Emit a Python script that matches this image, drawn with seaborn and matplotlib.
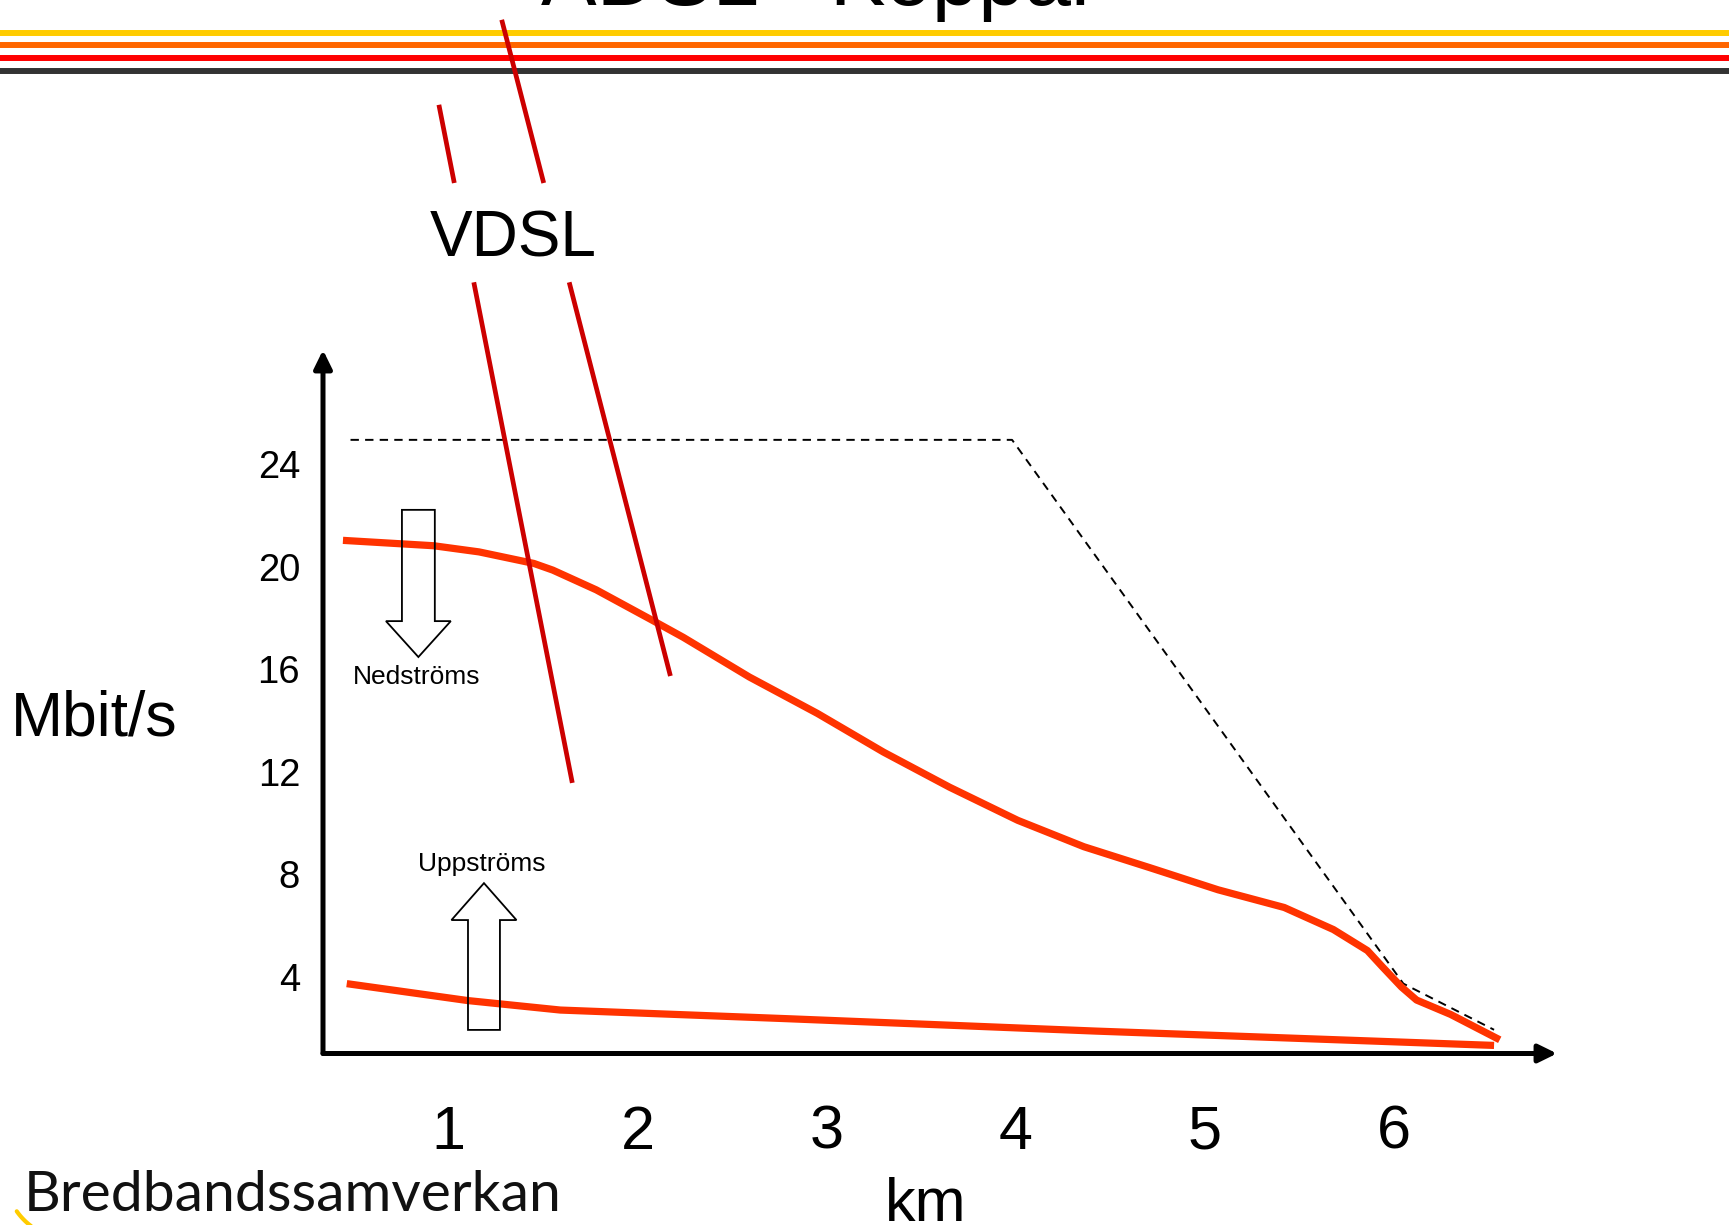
import numpy as np
import pandas as pd
import matplotlib
matplotlib.use("Agg")
import matplotlib.pyplot as plt
import seaborn as sns
from matplotlib.lines import Line2D
from matplotlib.patches import FancyArrow

# ---------------- data ----------------
km_ticks = [1, 2, 3, 4, 5, 6]
mbit_ticks = [4, 8, 12, 16, 20, 24]

down_km = [0.44, 0.92, 1.16, 1.45, 1.55, 1.78, 2.07, 2.24, 2.59, 2.95, 3.30,
           3.65, 4.01, 4.36, 4.71, 5.07, 5.42, 5.68, 5.86, 5.94, 6.04, 6.12,
           6.30, 6.56]
down_mbit = [21.03, 20.82, 20.58, 20.13, 19.87, 19.10, 17.94, 17.25, 15.70,
             14.28, 12.77, 11.40, 10.11, 9.08, 8.26, 7.40, 6.71, 5.85, 5.03,
             4.39, 3.61, 3.10, 2.54, 1.55]

up_km = [0.46, 1.10, 1.59, 2.80, 4.42, 6.53]
up_mbit = [3.74, 3.08, 2.71, 2.37, 1.89, 1.33]

max_km = [0.48, 3.98, 6.05, 6.53]
max_mbit = [24.95, 24.95, 3.74, 1.94]

# ---------------- figure ----------------
W, H = 1729, 1225
sns.set_theme(style="white")
plt.rcParams["font.family"] = ["Liberation Sans", "DejaVu Sans"]

fig = plt.figure(figsize=(W / 100, H / 100), dpi=100)
fig.patch.set_facecolor("white")


def fx(px):
    return px / W


def fy(py):
    return 1 - py / H


# header stripes
for ypx, col in [(32.8, "#FFCC00"), (45.3, "#FF6600"), (58.2, "#FF0000"), (71.0, "#333333")]:
    fig.add_artist(Line2D([0, 1], [fy(ypx), fy(ypx)], transform=fig.transFigure,
                          lw=4.3, color=col, solid_capstyle="butt", zorder=1))

# title (cut off at top like the reference)
fig.text(fx(820), fy(5), "ADSL - Koppar", fontsize=60, ha="center", va="baseline",
         color="black", zorder=2)

# main axes
ax = fig.add_axes([fx(323), fy(1053.5), fx(1557) - fx(323), fy(350) - fy(1053.5)])
ax.set_xlim(0.3344, 6.863)
ax.set_ylim(1.015, 28.455)
ax.patch.set_alpha(0)
for s in ax.spines.values():
    s.set_visible(False)

df_down = pd.DataFrame({"km": down_km, "mbit": down_mbit})
df_up = pd.DataFrame({"km": up_km, "mbit": up_mbit})
df_max = pd.DataFrame({"km": max_km, "mbit": max_mbit})

sns.lineplot(data=df_max, x="km", y="mbit", ax=ax, sort=False, estimator=None,
             color="black", lw=1.4, zorder=2)
ax.lines[-1].set_dashes((4.3, 3.2))
sns.lineplot(data=df_down, x="km", y="mbit", ax=ax, sort=False, estimator=None,
             color="#FF3300", lw=5.2, zorder=3)
sns.lineplot(data=df_up, x="km", y="mbit", ax=ax, sort=False, estimator=None,
             color="#FF3300", lw=5.2, zorder=3)
for ln in ax.lines:
    ln.set_solid_capstyle("butt")
    ln.set_solid_joinstyle("round")

ax.set_xlabel("")
ax.set_ylabel("")
ax.set_xticks(km_ticks)
ax.set_xticklabels([str(v) for v in km_ticks])
ax.set_yticks(mbit_ticks)
ax.set_yticklabels([str(v) for v in mbit_ticks])
ax.tick_params(axis="x", length=0, pad=37, labelsize=44, colors="black")
ax.tick_params(axis="y", length=0, pad=16.5, labelsize=27.5, colors="black")
ax.grid(False)

# axis arrows
arrow_kw = dict(arrowstyle="-|>,head_length=0.55,head_width=0.27", lw=3.6,
                color="black", shrinkA=0, shrinkB=0, mutation_scale=20)
ax.annotate("", xy=(1, 0), xytext=(0, 0), xycoords="axes fraction",
            arrowprops=arrow_kw, annotation_clip=False, zorder=5)
ax.annotate("", xy=(0, 1), xytext=(0, 0), xycoords="axes fraction",
            arrowprops=arrow_kw, annotation_clip=False, zorder=5)

# hollow block arrows
ax.add_patch(FancyArrow(0.839, 22.22, 0, 16.48 - 22.22, width=0.174, head_width=0.343,
                        head_length=1.40, length_includes_head=True, fc="none",
                        ec="black", lw=1.3, zorder=4))
ax.add_patch(FancyArrow(1.186, 1.935, 0, 7.66 - 1.935, width=0.169, head_width=0.344,
                        head_length=1.44, length_includes_head=True, fc="none",
                        ec="black", lw=1.3, zorder=4))
ax.text(0.832, 15.70, "Nedströms", fontsize=19, ha="center", va="center", color="black")
ax.text(1.175, 8.39, "Uppströms", fontsize=19, ha="center", va="center", color="black")

# VDSL marker lines (figure pixel space)
vdsl_segments = [
    [(438.9, 104.8), (454.3, 183.0)],
    [(473.8, 282.3), (572.3, 782.9)],
    [(501.7, 19.8), (543.7, 183.0)],
    [(569.2, 282.3), (670.4, 676.0)],
]
for (x0, y0), (x1, y1) in vdsl_segments:
    fig.add_artist(Line2D([fx(x0), fx(x1)], [fy(y0), fy(y1)], transform=fig.transFigure,
                          lw=3.4, color="#CC0000", solid_capstyle="butt", zorder=10))

fig.text(fx(513), fy(256), "VDSL", fontsize=46, ha="center", va="baseline", color="black")
fig.text(fx(11), fy(735), "Mbit/s", fontsize=45, ha="left", va="baseline", color="black")
fig.text(fx(926), fy(1221), "km", fontsize=44, ha="center", va="baseline", color="black")

# logo text
fig.text(fx(24), fy(1211), "Bredbandssamverkan", fontsize=41, ha="left", va="baseline",
         color="#111111", family=["Lato", "DejaVu Sans"])
ang = np.linspace(np.radians(215), np.radians(250), 20)
fig.add_artist(Line2D(fx(70 + 65 * np.cos(ang)), fy(1174 - 65 * np.sin(ang)),
                      transform=fig.transFigure, lw=3, color="#FFCC00"))

fig.savefig("out.png", dpi=100, facecolor="white")
